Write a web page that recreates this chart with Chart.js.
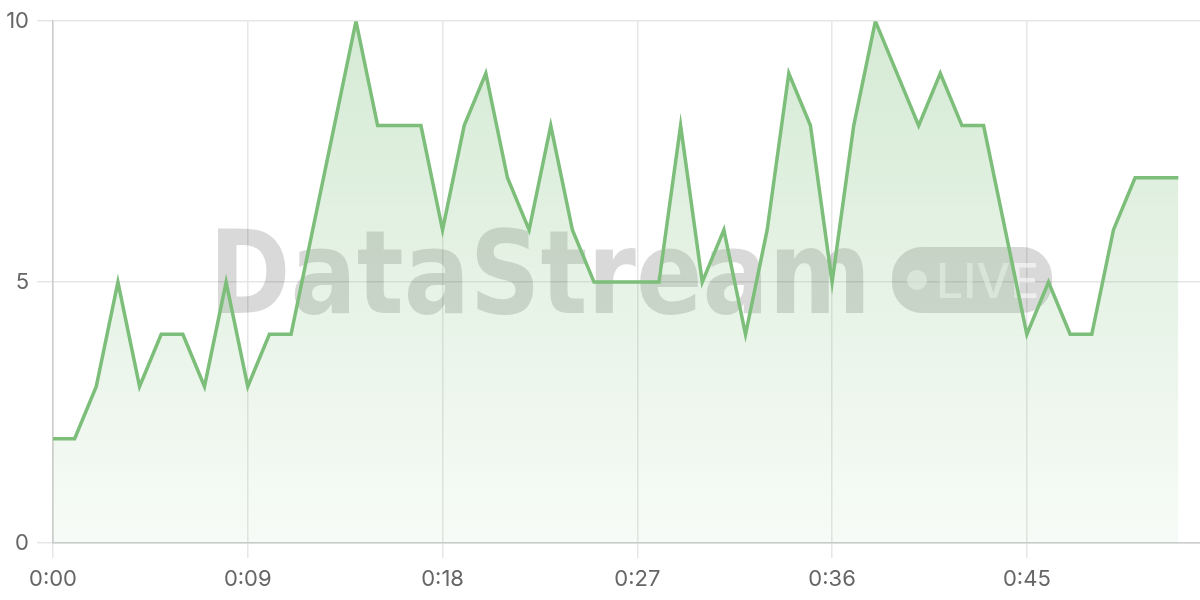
<!DOCTYPE html>
<html>
<head>
<meta charset="utf-8">
<script src="https://cdn.jsdelivr.net/npm/chart.js@4/dist/chart.umd.min.js"></script>
<style>
  html, body { margin: 0; padding: 0; background: #fff; }
  #wrap { position: relative; width: 1200px; height: 600px; }
</style>
</head>
<body>
<div id="wrap"><canvas id="c" width="1200" height="600"></canvas></div>
<script>
const seconds = [0,1,2,3,4,5,6,7,8,9,10,11,12,13,14,15,16,17,18,19,20,21,22,23,24,25,26,27,28,29,30,31,32,33,34,35,36,37,38,39,40,41,42,43,44,45,46,47,48,49,50,51,52];
const values  = [2,2,3,5,3,4,4,3,5,3,4,4,6,8,10,8,8,8,6,8,9,7,6,8,6,5,5,5,5,8,5,6,4,6,9,8,5,8,10,9,8,9,8,8,6,4,5,4,4,6,7,7,7];
const xTicks = [0, 9, 18, 27, 36, 45];
const yTicks = [0, 5, 10];
const watermarkText = 'DataStream';
const badgeText = 'LIVE';

const lineColor = 'rgb(124,190,122)';

const points = seconds.map((s, i) => ({ x: s, y: values[i] }));

const watermark = {
  id: 'watermark',
  beforeDatasetsDraw(chart) {
    const ctx = chart.ctx;
    ctx.save();
    ctx.fillStyle = 'rgba(0,0,0,0.15)';
    ctx.font = 'bold 116px "Liberation Sans Narrow", "DejaVu Sans Condensed", "Roboto Condensed", sans-serif';
    ctx.textBaseline = 'alphabetic';
    ctx.textAlign = 'left';
    const w = ctx.measureText(watermarkText).width;
    const target = 662;
    ctx.save();
    ctx.translate(209, 313);
    ctx.scale(target / w, 1);
    ctx.fillText(watermarkText, 0, 0);
    ctx.restore();
    // badge
    const bx = 892, by = 247, bw = 160, bh = 66, r = 30;
    ctx.beginPath();
    ctx.roundRect(bx, by, bw, bh, r);
    ctx.fill();
    ctx.fillStyle = 'rgba(255,255,255,0.55)';
    ctx.beginPath();
    ctx.arc(917, 280, 10, 0, Math.PI * 2);
    ctx.fill();
    ctx.font = '500 48px Inter, "DejaVu Sans", sans-serif';
    ctx.fillText(badgeText, 936, 298);
    ctx.restore();
  }
};

new Chart(document.getElementById('c'), {
  type: 'line',
  data: {
    datasets: [{
      data: points,
      borderColor: lineColor,
      borderWidth: 3.5,
      pointRadius: 0,
      tension: 0,
      fill: 'origin',
      backgroundColor(ctx) {
        const area = ctx.chart.chartArea;
        if (!area) return 'rgba(124,190,122,0.2)';
        const g = ctx.chart.ctx.createLinearGradient(0, area.top, 0, area.bottom);
        g.addColorStop(0, 'rgba(124,190,122,0.32)');
        g.addColorStop(1, 'rgba(124,190,122,0.06)');
        return g;
      }
    }]
  },
  options: {
    responsive: false,
    animation: false,
    layout: { padding: { top: 19, right: 0, left: 0, bottom: 0 } },
    plugins: { legend: { display: false }, tooltip: { enabled: false } },
    scales: {
      x: {
        type: 'linear',
        min: 0,
        max: 53,
        afterFit(scale) { scale.height = 57; },
        afterBuildTicks(scale) { scale.ticks = xTicks.map(v => ({ value: v })); },
        ticks: {
          color: '#666',
          font: { size: 22, family: 'Inter, "Open Sans", sans-serif' },
          padding: 8,
          maxRotation: 0,
          callback: v => Math.floor(v / 60) + ':' + String(v % 60).padStart(2, '0')
        },
        grid: { color: '#e6e6e6', lineWidth: 1.5, tickLength: 15 },
        border: { color: '#cccccc', width: 1.5 }
      },
      y: {
        min: 0,
        max: 10,
        afterFit(scale) { scale.width = 53; },
        afterBuildTicks(scale) { scale.ticks = yTicks.map(v => ({ value: v })); },
        ticks: {
          color: '#666',
          font: { size: 22, family: 'Inter, "Open Sans", sans-serif' },
          padding: 8
        },
        grid: { color: '#e6e6e6', lineWidth: 1.5, tickLength: 16 },
        border: { color: '#cccccc', width: 1.5 }
      }
    }
  },
  plugins: [watermark]
});
</script>
</body>
</html>
